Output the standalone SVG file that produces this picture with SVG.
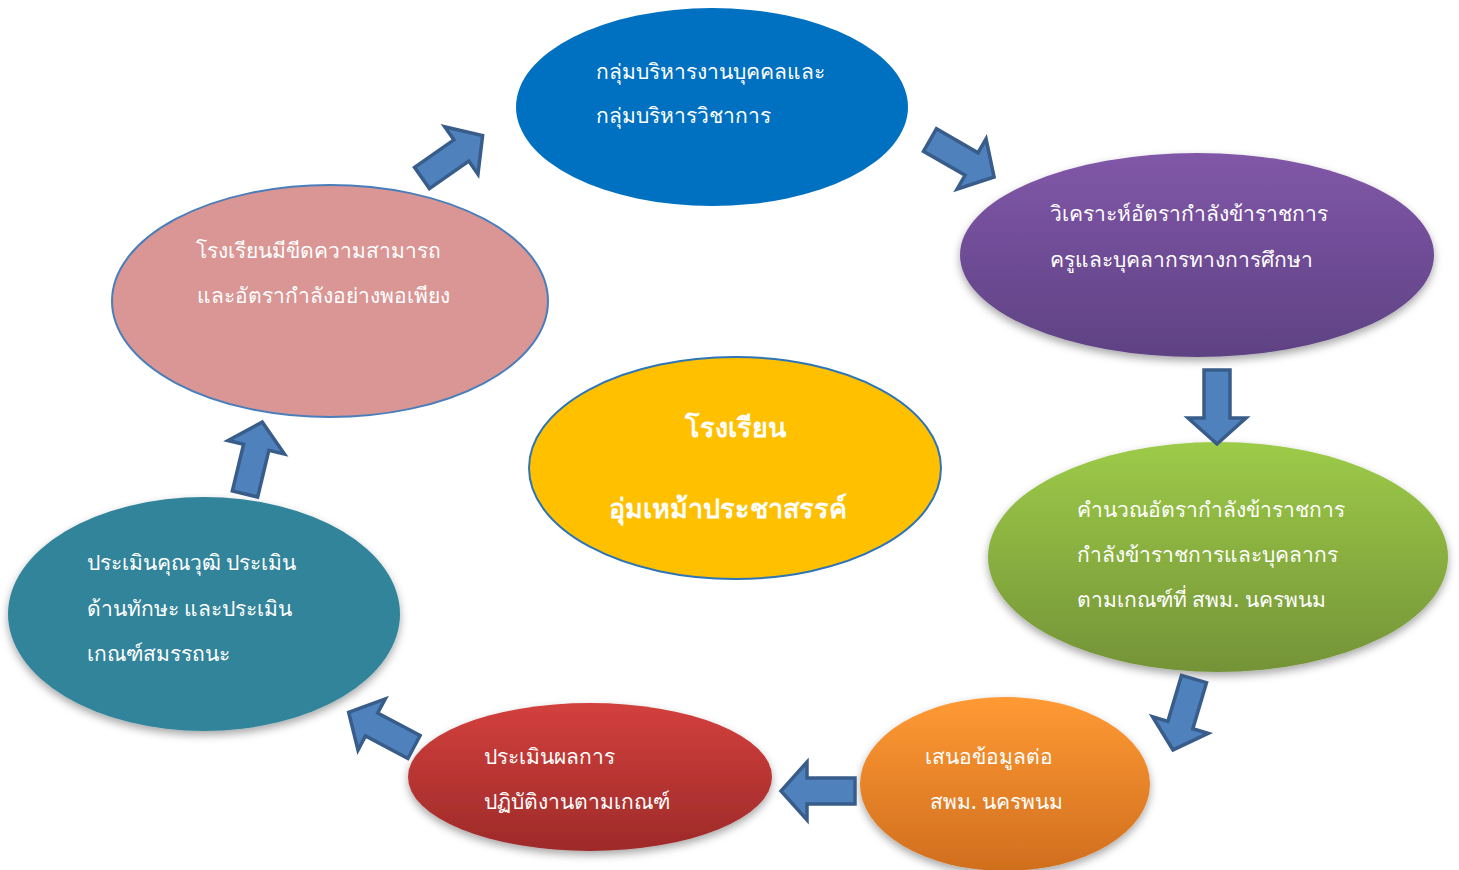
<svg xmlns="http://www.w3.org/2000/svg" width="1459" height="870" viewBox="0 0 1459 870">
<style>
.t{font-family:"Noto Sans",sans-serif;font-size:21px;fill:#ffffff;}
.c{font-family:"Noto Sans",sans-serif;font-size:27px;font-weight:bold;fill:#ffffff;text-anchor:middle;}
.arr{fill:#4F81BD;stroke:#385D8A;stroke-width:3.5;stroke-linejoin:miter;}
</style>
<defs>
<linearGradient id="gPurple" x1="0" y1="0" x2="0" y2="1"><stop offset="0" stop-color="#8157A8"/><stop offset="1" stop-color="#5E4283"/></linearGradient>
<linearGradient id="gGreen" x1="0" y1="0" x2="0" y2="1"><stop offset="0" stop-color="#9DCB48"/><stop offset="1" stop-color="#749338"/></linearGradient>
<linearGradient id="gOrange" x1="0" y1="0" x2="0" y2="1"><stop offset="0" stop-color="#FF9A34"/><stop offset="1" stop-color="#D06E1E"/></linearGradient>
<linearGradient id="gRed" x1="0" y1="0" x2="0" y2="1"><stop offset="0" stop-color="#D3403D"/><stop offset="1" stop-color="#9D2A29"/></linearGradient>
<filter id="sh" x="-10%" y="-10%" width="120%" height="130%"><feDropShadow dx="0" dy="4" stdDeviation="4" flood-color="#000" flood-opacity="0.35"/></filter>
<path id="a" d="M0,-13 L48,-13 L48,-29 L74,0 L48,29 L48,13 L0,13 Z"/>
</defs>
<rect width="1459" height="870" fill="#ffffff"/>

<g id="n-blue">
<ellipse cx="712" cy="107" rx="196" ry="99" fill="#0070C0"/>
<text class="t" x="596" y="79">กลุ่มบริหารงานบุคคลและ</text>
<text class="t" x="596" y="123">กลุ่มบริหารวิชาการ</text>
</g>
<g id="n-purple">
<ellipse cx="1197" cy="255" rx="237" ry="102" fill="url(#gPurple)" filter="url(#sh)"/>
<text class="t" x="1050" y="221">วิเคราะห์อัตรากำลังข้าราชการ</text>
<text class="t" x="1050" y="267">ครูและบุคลากรทางการศึกษา</text>
</g>
<g id="n-green">
<ellipse cx="1218" cy="557" rx="230" ry="115" fill="url(#gGreen)" filter="url(#sh)"/>
<text class="t" x="1077" y="517">คำนวณอัตรากำลังข้าราชการ</text>
<text class="t" x="1077" y="562">กำลังข้าราชการและบุคลากร</text>
<text class="t" x="1077" y="607">ตามเกณฑ์ที่ สพม. นครพนม</text>
</g>
<g id="n-orange">
<ellipse cx="1005" cy="784" rx="145" ry="87" fill="url(#gOrange)" filter="url(#sh)"/>
<text class="t" x="925" y="764">เสนอข้อมูลต่อ</text>
<text class="t" x="930" y="809">สพม. นครพนม</text>
</g>
<g id="n-red">
<ellipse cx="590" cy="777" rx="182" ry="74" fill="url(#gRed)" filter="url(#sh)"/>
<text class="t" x="484" y="764">ประเมินผลการ</text>
<text class="t" x="484" y="809">ปฏิบัติงานตามเกณฑ์</text>
</g>
<g id="n-teal">
<ellipse cx="204" cy="614" rx="196" ry="117" fill="#31849B" filter="url(#sh)"/>
<text class="t" x="87" y="570">ประเมินคุณวุฒิ ประเมิน</text>
<text class="t" x="87" y="616">ด้านทักษะ และประเมิน</text>
<text class="t" x="87" y="661">เกณฑ์สมรรถนะ</text>
</g>
<g id="n-pink">
<ellipse cx="330" cy="301" rx="218" ry="116" fill="#D99694" stroke="#4A7EBB" stroke-width="2"/>
<text class="t" x="196" y="258">โรงเรียนมีขีดความสามารถ</text>
<text class="t" x="197" y="303">และอัตรากำลังอย่างพอเพียง</text>
</g>
<g id="n-center">
<ellipse cx="735" cy="468" rx="206" ry="111" fill="#FFC000" stroke="#2E75B6" stroke-width="2"/>
<text class="c" x="735" y="437">โรงเรียน</text>
<text class="c" x="728" y="518">อุ่มเหม้าประชาสรรค์</text>
</g>

<g id="connectors">
<use href="#a" class="arr" transform="translate(422,178) rotate(-35)"/>
<use href="#a" class="arr" transform="translate(930,140) rotate(30)"/>
<use href="#a" class="arr" transform="translate(1217,370) rotate(90)"/>
<use href="#a" class="arr" transform="translate(1194,679) rotate(106.5)"/>
<use href="#a" class="arr" transform="translate(855,791) rotate(180)"/>
<use href="#a" class="arr" transform="translate(414,747) rotate(208)"/>
<use href="#a" class="arr" transform="translate(245,494) rotate(-76.5)"/>
</g>
</svg>
